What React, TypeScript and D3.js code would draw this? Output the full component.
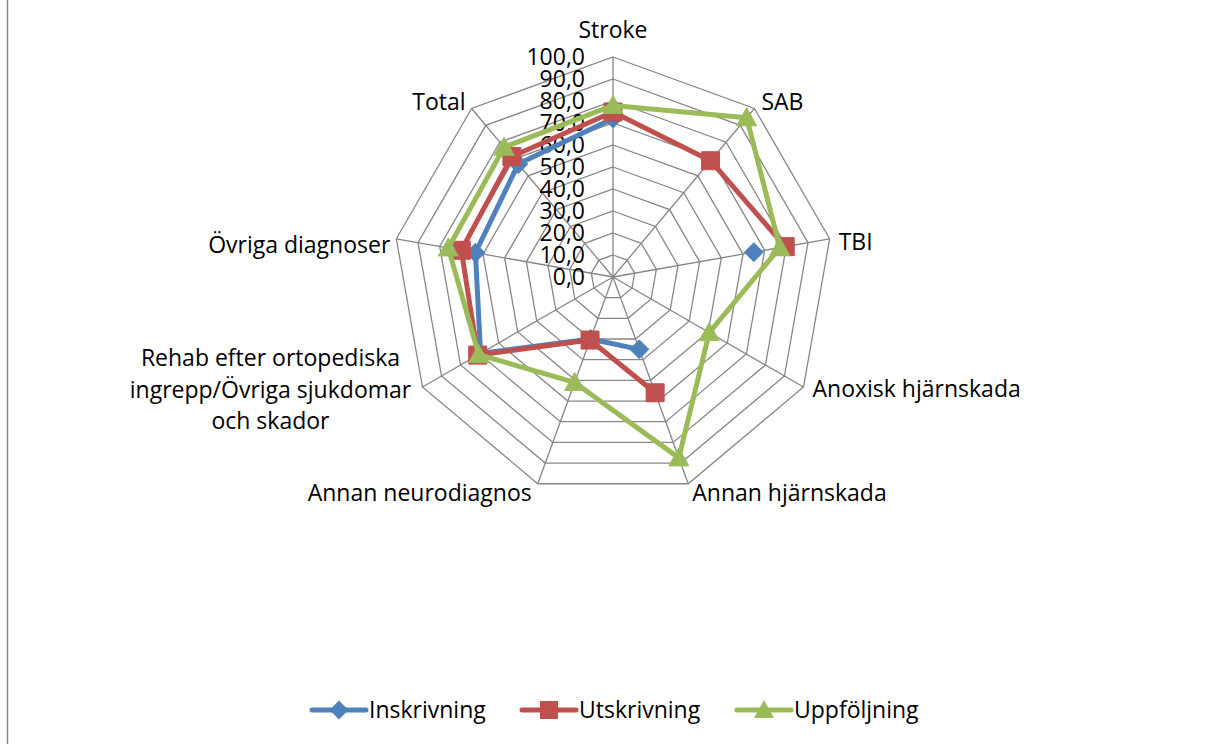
import React from "react";
import * as d3 from "d3";

const categories = [
  "Stroke",
  "SAB",
  "TBI",
  "Anoxisk hjärnskada",
  "Annan hjärnskada",
  "Annan neurodiagnos",
  "Rehab efter ortopediska|ingrepp/Övriga sjukdomar|och skador",
  "Övriga diagnoser",
  "Total",
];
const inskrivning: (number | null)[] = [72, null, 65, null, 35, 30, 69.5, 63.5, 67];
const utskrivning: (number | null)[] = [75, 69, 79.5, null, 56, 30.5, 71, 70, 71.5];
const uppfoljning: (number | null)[] = [78, 94.5, 77, 50.5, 87.5, 51, 70.5, 76, 77];
const tickValues = [0, 10, 20, 30, 40, 50, 60, 70, 80, 90, 100];
const seriesNames = ["Inskrivning", "Utskrivning", "Uppföljning"];

const W = 1209;
const H = 744;
const CX = 613;
const CY = 277;
const R = 220;
const FONT = "'Open Sans', sans-serif";
const FS = 23;
const COLORS = ["#4F81BD", "#C0504D", "#9BBB59"];
const SHAPES = ["diamond", "square", "triangle"];

// label placement relative to the outer vertex of each axis: [dx, dy(baseline), anchor]
const labelLayout: [number, number, string][] = [
  [0, -19, "middle"],
  [7, 2, "start"],
  [9, 11, "start"],
  [9, 10, "start"],
  [4, 17, "start"],
  [-6, 17, "end"],
  [-152, -21, "middle"],
  [-6, 14, "end"],
  [-6, 2, "end"],
];

function markerPath(shape: string, x: number, y: number): string {
  if (shape === "diamond") {
    const s = 9.5;
    return `M${x},${y - s}L${x + s},${y}L${x},${y + s}L${x - s},${y}Z`;
  }
  if (shape === "square") {
    const s = 9;
    return `M${x - s},${y - s}H${x + s}V${y + s}H${x - s}Z`;
  }
  return `M${x},${y - 10}L${x + 10},${y + 8}L${x - 10},${y + 8}Z`;
}

export default function App() {
  const r = d3.scaleLinear().domain([0, 100]).range([0, R]);
  const n = categories.length;
  const angle = d3
    .scaleLinear()
    .domain([0, n])
    .range([0, 2 * Math.PI]);
  const pt = (i: number, v: number): [number, number] => {
    const a = angle(i);
    return [CX + r(v) * Math.sin(a), CY - r(v) * Math.cos(a)];
  };

  const rings = tickValues.filter((t) => t > 0);
  const ringPath = (v: number) =>
    d3.range(n).map((i) => pt(i, v).join(",")).join("L");

  const line = d3
    .line<{ i: number; v: number | null }>()
    .defined((d) => d.v !== null)
    .x((d) => pt(d.i, d.v as number)[0])
    .y((d) => pt(d.i, d.v as number)[1]);

  const allSeries = [inskrivning, utskrivning, uppfoljning];

  const legendItems = [
    { lx: 312, tx: 369 },
    { lx: 522, tx: 579 },
    { lx: 737, tx: 794 },
  ];
  const legendY = 710;

  return (
    <svg
      width={W}
      height={H}
      style={{ position: "absolute", left: 0, top: 0, background: "#fff" }}
      fontFamily={FONT}
    >
      <rect x={0} y={0} width={W} height={H} fill="#ffffff" />
      <line x1={7.5} y1={0} x2={7.5} y2={H} stroke="#868686" strokeWidth={1.5} />
      {/* grid */}
      <g fill="none" stroke="#868686" strokeWidth={1.3}>
        {rings.map((v) => (
          <path key={v} d={`M${ringPath(v)}Z`} />
        ))}
        {d3.range(n).map((i) => {
          const [x, y] = pt(i, 100);
          return <line key={i} x1={CX} y1={CY} x2={x} y2={y} />;
        })}
      </g>
      {/* tick labels */}
      <g fontSize={FS} fill="#000" textAnchor="end">
        {tickValues.map((t) => (
          <text key={t} x={CX - 28} y={CY - r(t)} dy="0.35em">
            {t.toFixed(1).replace(".", ",")}
          </text>
        ))}
      </g>
      {/* category labels */}
      <g fontSize={FS} fill="#000">
        {categories.map((c, i) => {
          const [vx, vy] = pt(i, 100);
          const [dx, dy, anchor] = labelLayout[i];
          const lines = c.split("|");
          return (
            <text key={c} x={vx + dx} y={vy + dy} textAnchor={anchor}>
              {lines.map((l, k) => (
                <tspan key={k} x={vx + dx} dy={k === 0 ? 0 : 31.5}>
                  {l}
                </tspan>
              ))}
            </text>
          );
        })}
      </g>
      {/* series */}
      {allSeries.map((vals, s) => {
        const data = [...vals, vals[0]].map((v, i) => ({ i: i % n, v }));
        return (
          <g key={s}>
            <path
              d={line(data) || ""}
              fill="none"
              stroke={COLORS[s]}
              strokeWidth={5}
              strokeLinejoin="round"
            />
            {vals.map((v, i) => {
              if (v === null) return null;
              const [x, y] = pt(i, v);
              return (
                <path key={i} d={markerPath(SHAPES[s], x, y)} fill={COLORS[s]} stroke={COLORS[s]} strokeWidth={1} />
              );
            })}
          </g>
        );
      })}
      {/* legend */}
      <g fontSize={FS} fill="#000">
        {seriesNames.map((name, s) => {
          const { lx, tx } = legendItems[s];
          return (
            <g key={name}>
              <line
                x1={lx}
                y1={legendY}
                x2={lx + 54}
                y2={legendY}
                stroke={COLORS[s]}
                strokeWidth={5}
                strokeLinecap="round"
              />
              <path d={markerPath(SHAPES[s], lx + 27, legendY)} fill={COLORS[s]} />
              <text x={tx} y={legendY} dy="0.35em">
                {name}
              </text>
            </g>
          );
        })}
      </g>
    </svg>
  );
}
